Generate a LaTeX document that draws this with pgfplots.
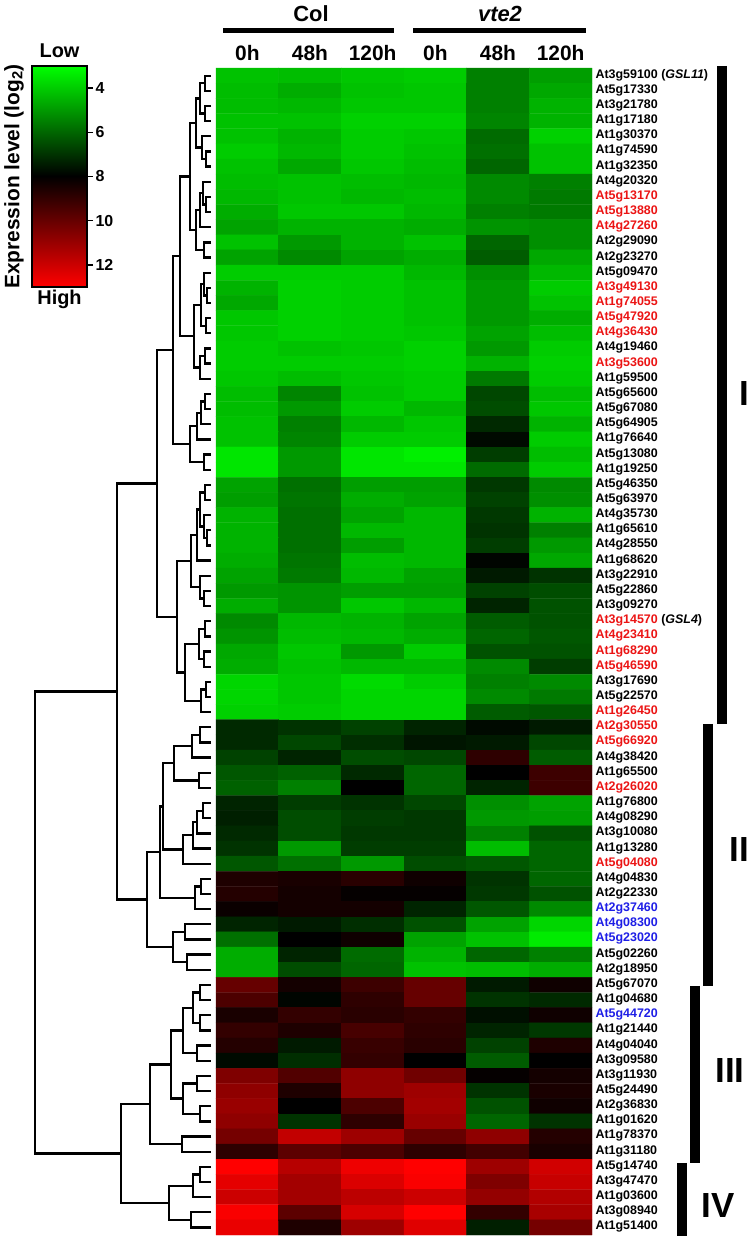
\documentclass[border=0pt]{standalone}
\usepackage{fontspec}
\setmainfont{Liberation Sans}
\usepackage{pgfplots}
\pgfplotsset{compat=1.18}
\definecolor{lblred}{RGB}{235,20,20}
\definecolor{lblblue}{RGB}{30,30,230}
\newcommand{\R}[1]{\textcolor{lblred}{#1}}
\newcommand{\B}[1]{\textcolor{lblblue}{#1}}
\pgfplotsset{colormap={rg}{rgb255=(0,255,0) rgb255=(0,0,0) rgb255=(255,0,0)}}
\begin{document}
\begin{tikzpicture}[x=1bp,y=1bp]
\useasboundingbox (0,0) rectangle (751,1240);
% ---------------- dendrogram ----------------
\begin{axis}[at={(0bp,5bp)}, anchor=south west, scale only axis,
  width=216bp, height=1167bp, xmin=0, xmax=216, ymin=0.5, ymax=77.5,
  y dir=reverse, hide axis, clip=false]
\addplot[black, line width=2.3bp, unbounded coords=jump, mark=none] coordinates {
(211,1)(205,1)(205,2)(211,2)(nan,nan)
(211,3)(205,3)(205,4)(211,4)(nan,nan)
(205,1.5)(200,1.5)(200,3.5)(205,3.5)(nan,nan)
(211,6)(206,6)(206,7)(211,7)(nan,nan)
(211,5)(202,5)(202,6.5)(206,6.5)(nan,nan)
(200,2.5)(196,2.5)(196,5.75)(202,5.75)(nan,nan)
(211,9)(206,9)(206,10)(211,10)(nan,nan)
(211,8)(203,8)(203,9.5)(206,9.5)(nan,nan)
(203,8.75)(200,8.75)(200,11)(211,11)(nan,nan)
(211,12)(204,12)(204,13)(211,13)(nan,nan)
(200,9.875)(196,9.875)(196,12.5)(204,12.5)(nan,nan)
(196,4.125)(190,4.125)(190,11.1875)(196,11.1875)(nan,nan)
(211,15)(207,15)(207,16)(211,16)(nan,nan)
(211,14)(204,14)(204,15.5)(207,15.5)(nan,nan)
(211,17)(206,17)(206,18)(211,18)(nan,nan)
(204,14.75)(201,14.75)(201,17.5)(206,17.5)(nan,nan)
(211,19)(205,19)(205,20)(211,20)(nan,nan)
(205,19.5)(200,19.5)(200,21)(211,21)(nan,nan)
(201,16.125)(194,16.125)(194,20.25)(200,20.25)(nan,nan)
(190,7.656)(180,7.656)(180,18.1875)(194,18.1875)(nan,nan)
(211,22)(205,22)(205,23)(211,23)(nan,nan)
(205,22.5)(201,22.5)(201,24)(211,24)(nan,nan)
(201,23.25)(197,23.25)(197,25)(211,25)(nan,nan)
(211,26)(204,26)(204,27)(211,27)(nan,nan)
(197,24.125)(190,24.125)(190,26.5)(204,26.5)(nan,nan)
(180,12.92)(173,12.92)(173,25.31)(190,25.31)(nan,nan)
(211,28)(205,28)(205,29)(211,29)(nan,nan)
(211,31)(207,31)(207,32)(211,32)(nan,nan)
(211,30)(204,30)(204,31.5)(207,31.5)(nan,nan)
(205,28.5)(200,28.5)(200,30.75)(204,30.75)(nan,nan)
(200,29.625)(197,29.625)(197,33)(211,33)(nan,nan)
(211,35)(204,35)(204,36)(211,36)(nan,nan)
(211,34)(200,34)(200,35.5)(204,35.5)(nan,nan)
(197,31.31)(191,31.31)(191,34.75)(200,34.75)(nan,nan)
(211,37)(205,37)(205,38)(211,38)(nan,nan)
(211,39)(204,39)(204,40)(211,40)(nan,nan)
(205,37.5)(199,37.5)(199,39.5)(204,39.5)(nan,nan)
(211,41)(206,41)(206,42)(211,42)(nan,nan)
(206,41.5)(201,41.5)(201,43)(211,43)(nan,nan)
(199,38.5)(185,38.5)(185,42.25)(201,42.25)(nan,nan)
(191,33.03)(177,33.03)(177,40.375)(185,40.375)(nan,nan)
(173,19.12)(157,19.12)(157,36.70)(177,36.70)(nan,nan)
(211,44)(200,44)(200,45)(211,45)(nan,nan)
(200,44.5)(192,44.5)(192,46)(211,46)(nan,nan)
(211,47)(199,47)(199,48)(211,48)(nan,nan)
(192,45.25)(174,45.25)(174,47.5)(199,47.5)(nan,nan)
(211,49)(203,49)(203,50)(211,50)(nan,nan)
(203,49.5)(197,49.5)(197,51)(211,51)(nan,nan)
(197,50.25)(193,50.25)(193,52)(211,52)(nan,nan)
(193,51.125)(183,51.125)(183,53)(211,53)(nan,nan)
(174,46.375)(163,46.375)(163,52.06)(183,52.06)(nan,nan)
(211,54)(201,54)(201,55)(211,55)(nan,nan)
(201,54.5)(195,54.5)(195,56)(211,56)(nan,nan)
(163,49.22)(160,49.22)(160,55.25)(195,55.25)(nan,nan)
(211,57)(185,57)(185,58)(211,58)(nan,nan)
(211,59)(187,59)(187,60)(211,60)(nan,nan)
(185,57.5)(173,57.5)(173,59.5)(187,59.5)(nan,nan)
(160,52.23)(147,52.23)(147,58.5)(173,58.5)(nan,nan)
(157,27.91)(117,27.91)(117,55.37)(147,55.37)(nan,nan)
(211,61)(200,61)(200,62)(211,62)(nan,nan)
(211,63)(200,63)(200,64)(211,64)(nan,nan)
(200,61.5)(193,61.5)(193,63.5)(200,63.5)(nan,nan)
(211,65)(197,65)(197,66)(211,66)(nan,nan)
(193,62.5)(183,62.5)(183,65.5)(197,65.5)(nan,nan)
(211,67)(197,67)(197,68)(211,68)(nan,nan)
(211,69)(200,69)(200,70)(211,70)(nan,nan)
(197,67.5)(183,67.5)(183,69.5)(200,69.5)(nan,nan)
(183,64)(171,64)(171,68.5)(183,68.5)(nan,nan)
(211,71)(182,71)(182,72)(211,72)(nan,nan)
(171,66.25)(150,66.25)(150,71.5)(182,71.5)(nan,nan)
(211,73)(200,73)(200,74)(211,74)(nan,nan)
(200,73.5)(193,73.5)(193,75)(211,75)(nan,nan)
(211,76)(191,76)(191,77)(211,77)(nan,nan)
(193,74.25)(169,74.25)(169,76.5)(191,76.5)(nan,nan)
(150,68.875)(121,68.875)(121,75.375)(169,75.375)(nan,nan)
(117,41.64)(35,41.64)(35,72.125)(121,72.125)
};
\end{axis}
% ---------------- colour scale ----------------
\begin{axis}[at={(32bp,953bp)}, anchor=south west, scale only axis,
  width=55bp, height=221bp, xmin=0, xmax=1, ymin=3, ymax=13, y dir=reverse,
  enlargelimits=false, axis on top,
  xtick=\empty, ytick={4,6,8,10,12}, yticklabels={4,6,8,10,12},
  ytick pos=right, yticklabel pos=right, tick align=outside,
  major tick length=6bp, tick style={black, line width=1.5bp},
  axis line style={line width=1.2bp},
  yticklabel style={font=\fontsize{16}{16}\selectfont\bfseries, anchor=west, xshift=-1bp},
  point meta min=3, point meta max=13]
\addplot[surf, shader=interp, mesh/cols=2, point meta=y] coordinates {
(0,3) (1,3)
(0,8) (1,8)
(0,13) (1,13)
};
\end{axis}
% ---------------- heatmap ----------------
\begin{axis}[at={(216bp,5bp)}, anchor=south west, scale only axis,
  width=376bp, height=1167bp,
  xmin=-0.5, xmax=5.5, ymin=0.5, ymax=77.5, y dir=reverse,
  axis line style={draw=none}, major tick length=0pt, clip=false,
  xtick={0,...,5}, xticklabels={0h,48h,120h,0h,48h,120h},
  xticklabel pos=upper,
  xticklabel style={font=\fontsize{21}{21}\selectfont\bfseries, anchor=base, yshift=8bp},
  ytick={1,...,77}, yticklabel pos=upper,
  typeset ticklabels with strut,
  yticklabel style={font=\fontsize{12.5}{12.5}\selectfont\bfseries, anchor=west, xshift=0bp},
  yticklabels={At3g59100 (\textit{GSL11}),At5g17330,At3g21780,At1g17180,At1g30370,At1g74590,At1g32350,At4g20320,\R{At5g13170},\R{At5g13880},\R{At4g27260},At2g29090,At2g23270,At5g09470,\R{At3g49130},\R{At1g74055},\R{At5g47920},\R{At4g36430},At4g19460,\R{At3g53600},At1g59500,At5g65600,At5g67080,At5g64905,At1g76640,At5g13080,At1g19250,At5g46350,At5g63970,At4g35730,At1g65610,At4g28550,At1g68620,At3g22910,At5g22860,At3g09270,\R{At3g14570} (\textit{GSL4}),\R{At4g23410},\R{At1g68290},\R{At5g46590},At3g17690,At5g22570,\R{At1g26450},\R{At2g30550},\R{At5g66920},At4g38420,At1g65500,\R{At2g26020},At1g76800,At4g08290,At3g10080,At1g13280,\R{At5g04080},At4g04830,At2g22330,\B{At2g37460},\B{At4g08300},\B{At5g23020},At5g02260,At2g18950,At5g67070,At1g04680,\B{At5g44720},At1g21440,At4g04040,At3g09580,At3g11930,At5g24490,At2g36830,At1g01620,At1g78370,At1g31180,At5g14740,At3g47470,At1g03600,At3g08940,At1g51400},
  point meta min=3, point meta max=13,
]
\addplot[matrix plot*, mesh/cols=6, point meta=explicit] coordinates {
(0,1)[4.2] (1,1)[4.3] (2,1)[4.1] (3,1)[4.0] (4,1)[5.5] (5,1)[4.9]
(0,2)[4.3] (1,2)[4.6] (2,2)[4.2] (3,2)[4.1] (4,2)[5.5] (5,2)[4.7]
(0,3)[4.3] (1,3)[4.4] (2,3)[4.1] (3,3)[4.1] (4,3)[5.5] (5,3)[4.5]
(0,4)[4.2] (1,4)[4.2] (2,4)[3.9] (3,4)[3.9] (4,4)[5.4] (5,4)[4.5]
(0,5)[4.2] (1,5)[4.5] (2,5)[4.0] (3,5)[4.1] (4,5)[5.9] (5,5)[3.9]
(0,6)[4.0] (1,6)[4.4] (2,6)[4.0] (3,6)[4.2] (4,6)[5.8] (5,6)[4.2]
(0,7)[4.2] (1,7)[4.7] (2,7)[4.1] (3,7)[4.3] (4,7)[6.0] (5,7)[4.2]
(0,8)[4.3] (1,8)[4.2] (2,8)[4.3] (3,8)[4.4] (4,8)[5.3] (5,8)[5.5]
(0,9)[4.4] (1,9)[4.2] (2,9)[4.4] (3,9)[4.3] (4,9)[5.3] (5,9)[5.6]
(0,10)[4.6] (1,10)[4.1] (2,10)[4.1] (3,10)[4.4] (4,10)[5.5] (5,10)[5.6]
(0,11)[4.8] (1,11)[4.5] (2,11)[4.5] (3,11)[4.6] (4,11)[5.1] (5,11)[5.2]
(0,12)[4.2] (1,12)[5.0] (2,12)[4.5] (3,12)[4.2] (4,12)[6.0] (5,12)[5.2]
(0,13)[4.8] (1,13)[5.3] (2,13)[4.8] (3,13)[4.6] (4,13)[6.2] (5,13)[4.7]
(0,14)[4.0] (1,14)[4.0] (2,14)[4.0] (3,14)[4.4] (4,14)[5.2] (5,14)[4.4]
(0,15)[4.5] (1,15)[3.9] (2,15)[4.0] (3,15)[4.2] (4,15)[5.0] (5,15)[4.0]
(0,16)[4.7] (1,16)[3.9] (2,16)[4.0] (3,16)[4.2] (4,16)[5.0] (5,16)[4.2]
(0,17)[4.1] (1,17)[3.9] (2,17)[4.0] (3,17)[4.2] (4,17)[5.0] (5,17)[4.6]
(0,18)[4.1] (1,18)[3.9] (2,18)[4.0] (3,18)[4.1] (4,18)[4.8] (5,18)[4.3]
(0,19)[4.0] (1,19)[4.2] (2,19)[4.1] (3,19)[3.9] (4,19)[5.0] (5,19)[4.0]
(0,20)[4.0] (1,20)[4.0] (2,20)[4.0] (3,20)[3.9] (4,20)[4.5] (5,20)[3.9]
(0,21)[4.1] (1,21)[4.3] (2,21)[4.1] (3,21)[4.0] (4,21)[5.6] (5,21)[4.0]
(0,22)[4.3] (1,22)[5.4] (2,22)[4.2] (3,22)[4.0] (4,22)[6.6] (5,22)[4.3]
(0,23)[4.3] (1,23)[5.0] (2,23)[4.0] (3,23)[4.4] (4,23)[6.5] (5,23)[4.1]
(0,24)[4.2] (1,24)[5.5] (2,24)[4.4] (3,24)[4.1] (4,24)[7.2] (5,24)[4.5]
(0,25)[4.2] (1,25)[5.4] (2,25)[4.0] (3,25)[4.0] (4,25)[7.8] (5,25)[4.0]
(0,26)[3.5] (1,26)[5.0] (2,26)[3.5] (3,26)[3.3] (4,26)[6.8] (5,26)[4.3]
(0,27)[3.5] (1,27)[5.0] (2,27)[3.5] (3,27)[3.5] (4,27)[5.9] (5,27)[4.0]
(0,28)[4.8] (1,28)[5.8] (2,28)[4.9] (3,28)[4.9] (4,28)[6.9] (5,28)[5.3]
(0,29)[4.9] (1,29)[5.7] (2,29)[4.6] (3,29)[4.8] (4,29)[6.7] (5,29)[5.2]
(0,30)[4.5] (1,30)[5.8] (2,30)[4.8] (3,30)[4.4] (4,30)[6.9] (5,30)[4.5]
(0,31)[4.5] (1,31)[5.8] (2,31)[4.4] (3,31)[4.4] (4,31)[7.0] (5,31)[5.5]
(0,32)[4.5] (1,32)[5.8] (2,32)[4.9] (3,32)[4.4] (4,32)[6.8] (5,32)[5.0]
(0,33)[4.6] (1,33)[5.7] (2,33)[4.3] (3,33)[4.4] (4,33)[7.9] (5,33)[4.7]
(0,34)[4.8] (1,34)[5.6] (2,34)[4.4] (3,34)[4.8] (4,34)[7.5] (5,34)[7.0]
(0,35)[5.0] (1,35)[5.1] (2,35)[4.9] (3,35)[4.9] (4,35)[6.7] (5,35)[6.5]
(0,36)[4.6] (1,36)[5.1] (2,36)[4.1] (3,36)[4.4] (4,36)[7.3] (5,36)[6.4]
(0,37)[5.3] (1,37)[4.4] (2,37)[4.5] (3,37)[4.8] (4,37)[6.2] (5,37)[6.4]
(0,38)[5.1] (1,38)[4.3] (2,38)[4.4] (3,38)[4.6] (4,38)[6.0] (5,38)[6.3]
(0,39)[4.7] (1,39)[4.1] (2,39)[5.0] (3,39)[4.0] (4,39)[6.4] (5,39)[6.4]
(0,40)[4.6] (1,40)[4.2] (2,40)[4.4] (3,40)[4.4] (4,40)[5.3] (5,40)[6.8]
(0,41)[3.8] (1,41)[4.1] (2,41)[3.7] (3,41)[4.0] (4,41)[5.5] (5,41)[5.3]
(0,42)[3.8] (1,42)[4.1] (2,42)[3.8] (3,42)[3.8] (4,42)[5.3] (5,42)[5.6]
(0,43)[3.9] (1,43)[4.0] (2,43)[3.8] (3,43)[3.8] (4,43)[6.2] (5,43)[6.3]
(0,44)[7.2] (1,44)[7.0] (2,44)[6.7] (3,44)[7.3] (4,44)[7.8] (5,44)[7.5]
(0,45)[7.2] (1,45)[6.6] (2,45)[7.1] (3,45)[7.6] (4,45)[7.5] (5,45)[6.6]
(0,46)[6.7] (1,46)[7.3] (2,46)[6.5] (3,46)[6.6] (4,46)[8.9] (5,46)[6.2]
(0,47)[6.3] (1,47)[6.1] (2,47)[7.2] (3,47)[6.0] (4,47)[8.0] (5,47)[9.2]
(0,48)[6.1] (1,48)[5.5] (2,48)[8.0] (3,48)[6.0] (4,48)[7.3] (5,48)[9.2]
(0,49)[7.3] (1,49)[6.8] (2,49)[7.0] (3,49)[6.6] (4,49)[5.2] (5,49)[4.8]
(0,50)[7.4] (1,50)[6.5] (2,50)[6.8] (3,50)[6.9] (4,50)[5.0] (5,50)[4.9]
(0,51)[7.2] (1,51)[6.5] (2,51)[6.9] (3,51)[6.9] (4,51)[5.5] (5,51)[6.4]
(0,52)[7.0] (1,52)[5.0] (2,52)[6.8] (3,52)[6.8] (4,52)[4.3] (5,52)[6.0]
(0,53)[6.3] (1,53)[5.8] (2,53)[5.0] (3,53)[6.5] (4,53)[6.3] (5,53)[6.0]
(0,54)[8.6] (1,54)[8.5] (2,54)[8.8] (3,54)[8.3] (4,54)[7.0] (5,54)[6.0]
(0,55)[8.7] (1,55)[8.4] (2,55)[8.1] (3,55)[8.1] (4,55)[6.9] (5,55)[6.4]
(0,56)[8.2] (1,56)[8.4] (2,56)[8.4] (3,56)[7.3] (4,56)[6.3] (5,56)[5.3]
(0,57)[7.3] (1,57)[7.5] (2,57)[7.1] (3,57)[6.4] (4,57)[4.8] (5,57)[3.8]
(0,58)[5.8] (1,58)[8.0] (2,58)[8.3] (3,58)[4.8] (4,58)[4.2] (5,58)[3.4]
(0,59)[4.6] (1,59)[7.3] (2,59)[5.9] (3,59)[4.5] (4,59)[6.0] (5,59)[5.5]
(0,60)[4.6] (1,60)[6.5] (2,60)[6.0] (3,60)[4.2] (4,60)[4.3] (5,60)[4.6]
(0,61)[10.0] (1,61)[8.4] (2,61)[9.2] (3,61)[10.0] (4,61)[7.5] (5,61)[8.3]
(0,62)[9.5] (1,62)[7.9] (2,62)[8.9] (3,62)[10.0] (4,62)[7.0] (5,62)[7.2]
(0,63)[8.5] (1,63)[9.0] (2,63)[8.8] (3,63)[9.0] (4,63)[7.7] (5,63)[8.3]
(0,64)[9.0] (1,64)[8.6] (2,64)[9.4] (3,64)[8.9] (4,64)[7.3] (5,64)[6.9]
(0,65)[8.7] (1,65)[7.5] (2,65)[9.1] (3,65)[8.8] (4,65)[6.7] (5,65)[8.6]
(0,66)[7.8] (1,66)[7.1] (2,66)[9.0] (3,66)[8.0] (4,66)[6.2] (5,66)[8.0]
(0,67)[10.5] (1,67)[9.6] (2,67)[10.8] (3,67)[10.2] (4,67)[8.1] (5,67)[8.4]
(0,68)[10.8] (1,68)[8.6] (2,68)[10.8] (3,68)[11.1] (4,68)[7.0] (5,68)[8.5]
(0,69)[11.0] (1,69)[8.0] (2,69)[9.5] (3,69)[11.2] (4,69)[6.4] (5,69)[8.3]
(0,70)[10.8] (1,70)[7.0] (2,70)[8.9] (3,70)[11.0] (4,70)[6.0] (5,70)[7.0]
(0,71)[10.3] (1,71)[11.8] (2,71)[11.1] (3,71)[10.0] (4,71)[10.8] (5,71)[8.7]
(0,72)[8.9] (1,72)[9.8] (2,72)[9.5] (3,72)[8.9] (4,72)[9.3] (5,72)[8.5]
(0,73)[13.0] (1,73)[11.6] (2,73)[12.7] (3,73)[13.0] (4,73)[11.1] (5,73)[12.1]
(0,74)[12.5] (1,74)[11.2] (2,74)[12.3] (3,74)[12.9] (4,74)[10.5] (5,74)[11.9]
(0,75)[12.0] (1,75)[11.2] (2,75)[11.7] (3,75)[12.0] (4,75)[10.9] (5,75)[11.5]
(0,76)[12.9] (1,76)[9.8] (2,76)[12.2] (3,76)[13.0] (4,76)[9.0] (5,76)[11.3]
(0,77)[12.6] (1,77)[8.6] (2,77)[11.1] (3,77)[12.4] (4,77)[7.4] (5,77)[10.3]
};
\end{axis}
% ---------------- annotations ----------------
\node[anchor=base, font=\fontsize{22}{22}\selectfont\bfseries] at (311,1218) {Col};
\node[anchor=base, font=\fontsize{22}{22}\selectfont\bfseries\itshape] at (500,1218) {vte2};
\draw[line width=5.7bp] (223,1209.5) -- (394,1209.5);
\draw[line width=5.7bp] (413,1209.5) -- (586,1209.5);
\draw[line width=10bp] (722,1174) -- (722,516);
\draw[line width=10bp] (708,516) -- (708,254);
\draw[line width=10bp] (695,254) -- (695,77);
\draw[line width=10bp] (682,77) -- (682,4);
\node[font=\fontsize{35}{35}\selectfont\bfseries] at (744,846) {I};
\node[font=\fontsize{35}{35}\selectfont\bfseries] at (739,390) {II};
\node[font=\fontsize{35}{35}\selectfont\bfseries] at (730,169) {III};
\node[font=\fontsize{35}{35}\selectfont\bfseries] at (718,34) {IV};
\node[anchor=base, font=\fontsize{20}{20}\selectfont\bfseries] at (59.5,1182) {Low};
\node[anchor=base, font=\fontsize{20}{20}\selectfont\bfseries] at (59.5,935) {High};
\node[rotate=90, font=\fontsize{21}{21}\selectfont\bfseries] at (14,1063.5) {Expression level (log\textsubscript{2})};
\end{tikzpicture}
\end{document}
